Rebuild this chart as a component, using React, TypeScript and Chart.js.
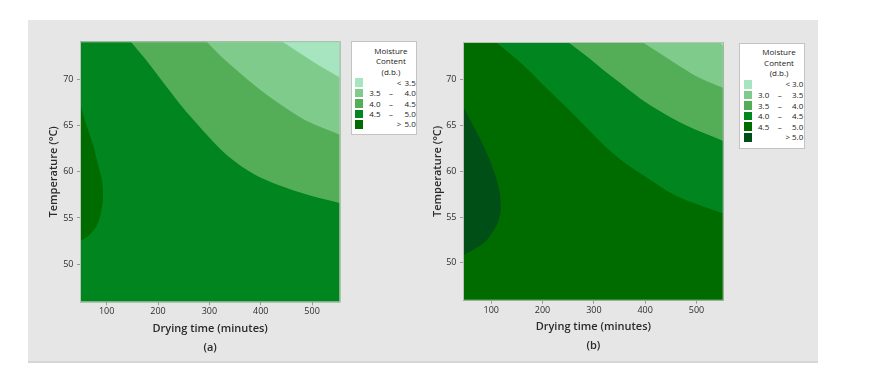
import React, { useEffect, useRef } from 'react';
import { Chart, registerables } from 'chart.js';

Chart.register(...registerables);

const FONT = '"Open Sans", "Noto Sans", "DejaVu Sans", sans-serif';

// ---------- shared axis data ----------
const timeTicks = [100, 200, 300, 400, 500];
const tempTicks = [50, 55, 60, 65, 70];
const tempRange = [45.86, 74.14];
const timeRangeA = [48, 555];
const timeRangeB = [45, 553];

const xTitle = 'Drying time (minutes)';
const yTitle = 'Temperature (°C)';
const legendTitle = ['Moisture', 'Content', '(d.b.)'];

// ---------- panel (a) ----------
const cutsA = [3.5, 4.0, 4.5, 5.0];
const colorsA = ['#a6e5bf', '#7fcb8b', '#54ae57', '#00851f', '#006c00'];
// contour 3.5
const a35Time = [441, 472, 511, 555];
const a35Temp = [74.14, 73.0, 71.6, 70.2];
// contour 4.0
const a40Time = [294, 323, 355.5, 394, 433, 485, 555];
const a40Temp = [74.14, 72.5, 70.9, 69.1, 67.5, 65.65, 64.0];
// contour 4.5
const a45Time = [146, 174, 206, 239, 271, 303.5, 336, 388, 433, 498, 555];
const a45Temp = [74.14, 72.3, 69.98, 67.6, 65.5, 63.5, 61.7, 59.7, 58.6, 57.4, 56.6];
// contour 5.0 (closed region on left edge)
const a50Time = [48, 60.3, 73.3, 83, 90.9, 92.8, 89.5, 79.8, 63.6, 48];
const a50Temp = [67.46, 65.1, 62.95, 60.8, 59.0, 57.5, 55.75, 54.1, 53.05, 52.5];

// ---------- panel (b) ----------
const cutsB = [3.0, 3.5, 4.0, 4.5, 5.0];
const colorsB = ['#a6e5bf', '#7fcb8b', '#54ae57', '#00851f', '#006c00', '#004f17'];
// contour 3.0
const b30Time = [545, 553];
const b30Temp = [74.14, 73.7];
// contour 3.5
const b35Time = [394.6, 428.4, 467.4, 506.4, 553];
const b35Temp = [74.14, 72.9, 71.5, 70.2, 69.1];
// contour 4.0
const b40Time = [249.5, 285.4, 317.8, 350.3, 389.4, 428.4, 480.5, 553];
const b40Temp = [74.14, 72.6, 71.1, 69.7, 68.0, 66.6, 65.0, 63.3];
// contour 4.5
const b45Time = [108.4, 135.7, 168.3, 207.3, 246.3, 285.4, 324.4, 363.4, 402.4, 454.3, 506.4, 553];
const b45Temp = [74.14, 72.9, 71.3, 69.1, 67.0, 64.8, 62.6, 60.8, 59.35, 57.5, 56.3, 55.4];
// contour 5.0 (closed region on left edge)
const b50Time = [45, 64.1, 83.6, 100, 112.9, 118.1, 116.2, 103.1, 83.6, 64.1, 45];
const b50Temp = [67.14, 65.1, 62.97, 60.8, 58.6, 56.8, 55.0, 53.4, 52.1, 51.4, 50.8];

type Curve = { time: number[]; temp: number[] };
type Spec = {
  label: string;
  cuts: number[];
  colors: string[];
  timeRange: number[];
  curves: Curve[];
  peak: Curve;
};

const specA: Spec = {
  label: '(a)',
  cuts: cutsA,
  colors: colorsA,
  timeRange: timeRangeA,
  curves: [
    { time: a35Time, temp: a35Temp },
    { time: a40Time, temp: a40Temp },
    { time: a45Time, temp: a45Temp },
  ],
  peak: { time: a50Time, temp: a50Temp },
};

const specB: Spec = {
  label: '(b)',
  cuts: cutsB,
  colors: colorsB,
  timeRange: timeRangeB,
  curves: [
    { time: b30Time, temp: b30Temp },
    { time: b35Time, temp: b35Temp },
    { time: b40Time, temp: b40Temp },
    { time: b45Time, temp: b45Temp },
  ],
  peak: { time: b50Time, temp: b50Temp },
};

// ---------- layout ----------
const layoutA = {
  left: 28, top: 20, width: 322, height: 342,
  padTop: 21.3, padRight: 9.7, yAxisWidth: 52, xAxisHeight: 59.7,
  titleLine: 18.7, titlePadBottom: 5, yTitlePad: 19.5,
  legend: { left: 350.5, top: 41.3, width: 66.8, height: 93.7, rowStart: 41, rowStep: 10.4 },
};
const layoutB = {
  left: 411.3, top: 20, width: 323, height: 342,
  padTop: 22, padRight: 10.3, yAxisWidth: 52, xAxisHeight: 61.3,
  titleLine: 19, titlePadBottom: 6.8, yTitlePad: 19.8,
  legend: { left: 739.3, top: 42.5, width: 65.5, height: 106, rowStart: 41.3, rowStep: 10.6 },
};

const framePlugin = {
  id: 'frame',
  beforeDatasetsDraw(chart: any, _args: any, opts: any) {
    const { ctx, chartArea } = chart;
    const { left, top, width, height } = chartArea;
    ctx.save();
    ctx.fillStyle = opts.color;
    ctx.fillRect(left, top, width, height);
    ctx.restore();
  },
  afterDatasetsDraw(chart: any, _args: any, opts: any) {
    const { ctx, chartArea } = chart;
    const { left, top, width, height } = chartArea;
    ctx.save();
    ctx.strokeStyle = opts.border;
    ctx.lineWidth = 1;
    ctx.strokeRect(left + 0.5, top + 0.5, width - 1, height - 1);
    ctx.restore();
  },
};

function ContourPanel({ spec, layout }: { spec: Spec; layout: typeof layoutA }) {
  const ref = useRef<HTMLCanvasElement>(null);
  useEffect(() => {
    const canvas = ref.current!;
    const n = spec.cuts.length;
    const datasets: any[] = spec.curves.map((c, i) => ({
      data: c.time.map((t, j) => ({ x: t, y: c.temp[j] })),
      showLine: true,
      borderWidth: 0,
      borderColor: 'rgba(0,0,0,0)',
      pointRadius: 0,
      pointHoverRadius: 0,
      backgroundColor: spec.colors[i],
      fill: 'end',
      cubicInterpolationMode: 'monotone',
    }));
    datasets.push({
      data: spec.peak.time.map((t, j) => ({ x: t, y: spec.peak.temp[j] })),
      showLine: true,
      borderWidth: 0,
      borderColor: 'rgba(0,0,0,0)',
      pointRadius: 0,
      pointHoverRadius: 0,
      backgroundColor: spec.colors[n],
      fill: 'shape',
      tension: 0.45,
    });

    const tickFont = { family: FONT, size: 9 };
    const titleFont = { family: FONT, size: 11, weight: 600 as any };

    const chart = new Chart(canvas, {
      type: 'scatter',
      data: { datasets },
      plugins: [framePlugin],
      options: {
        animation: false,
        responsive: false,
        devicePixelRatio: 1,
        events: [],
        layout: { padding: { top: layout.padTop, right: layout.padRight, left: 0, bottom: 0 } },
        plugins: {
          legend: { display: false },
          tooltip: { enabled: false },
          frame: { color: spec.colors[n - 1], border: '#b9c2b9' },
        } as any,
        scales: {
          x: {
            type: 'linear',
            min: spec.timeRange[0],
            max: spec.timeRange[1],
            afterBuildTicks: (s: any) => { s.ticks = timeTicks.map((v) => ({ value: v })); },
            afterFit: (s: any) => { s.height = layout.xAxisHeight; },
            grid: { drawOnChartArea: false, drawTicks: true, tickLength: 3, tickColor: '#9a9a9a' },
            border: { display: false },
            ticks: { font: tickFont, color: '#2e2e2e', padding: 1, maxRotation: 0, autoSkip: false },
            title: {
              display: true,
              text: [xTitle, spec.label],
              font: { ...titleFont, lineHeight: `${layout.titleLine}px` },
              color: '#2a2a2a',
              padding: { top: 0, bottom: layout.titlePadBottom },
            },
          },
          y: {
            type: 'linear',
            min: tempRange[0],
            max: tempRange[1],
            afterBuildTicks: (s: any) => { s.ticks = tempTicks.map((v) => ({ value: v })); },
            afterFit: (s: any) => { s.width = layout.yAxisWidth; },
            grid: { drawOnChartArea: false, drawTicks: true, tickLength: 3, tickColor: '#9a9a9a' },
            border: { display: false },
            ticks: { font: tickFont, color: '#2e2e2e', padding: 3.5, autoSkip: false },
            title: {
              display: true,
              text: yTitle,
              font: titleFont,
              color: '#2a2a2a',
              padding: { top: layout.yTitlePad, bottom: 0 },
            },
          },
        },
      } as any,
    });
    return () => chart.destroy();
  }, [spec, layout]);

  return (
    <canvas
      ref={ref}
      width={layout.width}
      height={layout.height}
      style={{
        position: 'absolute',
        left: layout.left,
        top: layout.top,
        width: layout.width,
        height: layout.height,
      }}
    />
  );
}

function MoistureLegend({ spec, layout }: { spec: Spec; layout: typeof layoutA }) {
  const L = layout.legend;
  const cuts = spec.cuts;
  const rows = spec.colors.map((c, i) => {
    let lo = '';
    let sym = '';
    let hi = '';
    if (i === 0) {
      sym = '<';
      hi = cuts[0].toFixed(1);
    } else if (i === spec.colors.length - 1) {
      sym = '>';
      hi = cuts[cuts.length - 1].toFixed(1);
    } else {
      lo = cuts[i - 1].toFixed(1);
      sym = '–';
      hi = cuts[i].toFixed(1);
    }
    return { c, lo, sym, hi, isDash: sym === '–' };
  });
  const txt: React.CSSProperties = {
    position: 'absolute',
    fontFamily: FONT,
    fontSize: 8,
    fontWeight: 500,
    lineHeight: '10px',
    color: '#1a1a1a',
    whiteSpace: 'nowrap',
  };
  return (
    <div
      style={{
        position: 'absolute',
        left: L.left,
        top: L.top,
        width: L.width,
        height: L.height,
        boxSizing: 'border-box',
        background: '#ffffff',
        border: '1px solid #c4c4c4',
      }}
    >
      {legendTitle.map((t, i) => (
        <div
          key={t}
          style={{ ...txt, left: 14, width: L.width - 16, textAlign: 'center', top: 3.6 + i * 10.4 }}
        >
          {t}
        </div>
      ))}
      {rows.map((r, i) => {
        const cy = L.rowStart + i * L.rowStep - 0.5;
        return (
          <React.Fragment key={i}>
            <div
              style={{
                position: 'absolute',
                left: 3.5,
                top: cy - 4.3,
                width: 8.4,
                height: 8.6,
                background: r.c,
              }}
            />
            {r.lo && (
              <div style={{ ...txt, left: 10, width: 19, textAlign: 'right', top: cy - 5 }}>{r.lo}</div>
            )}
            <div
              style={{
                ...txt,
                left: r.isDash ? 34.5 : 42.5,
                width: 10,
                textAlign: 'center',
                top: cy - 5,
              }}
            >
              {r.sym}
            </div>
            <div style={{ ...txt, left: L.width - 22.5, width: 20, textAlign: 'right', top: cy - 5 }}>
              {r.hi}
            </div>
          </React.Fragment>
        );
      })}
    </div>
  );
}

export default function App() {
  return (
    <div
      style={{
        position: 'absolute',
        left: 0,
        top: 0,
        width: 873,
        height: 372,
        background: '#ffffff',
        overflow: 'hidden',
      }}
    >
      <div
        style={{
          position: 'absolute',
          left: 28,
          top: 20,
          width: 790,
          height: 341,
          background: '#e6e6e6',
          borderBottom: '2px solid #d6d6d6',
        }}
      />
      <ContourPanel spec={specA} layout={layoutA} />
      <MoistureLegend spec={specA} layout={layoutA} />
      <ContourPanel spec={specB} layout={layoutB} />
      <MoistureLegend spec={specB} layout={layoutB} />
    </div>
  );
}
